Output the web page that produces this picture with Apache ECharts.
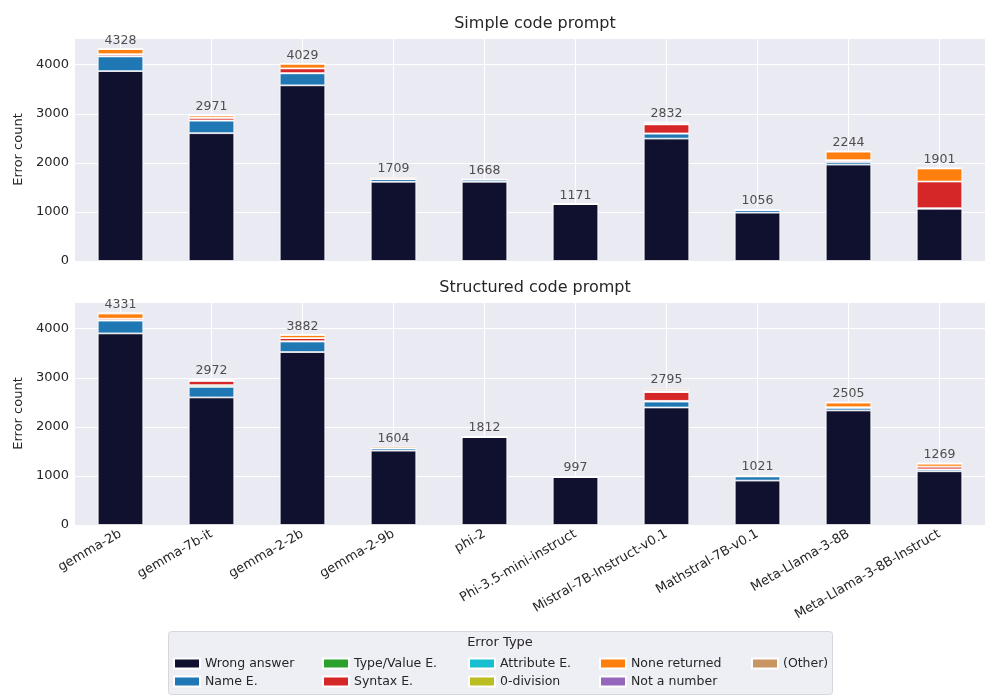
<!DOCTYPE html>
<html>
<head>
<meta charset="utf-8">
<title>Error types per model</title>
<script src="https://cdn.jsdelivr.net/npm/echarts@6/dist/echarts.min.js"></script>
<style>
	html, body { margin: 0; padding: 0; background: #fff; }
	#chart { width: 1000px; height: 700px; }
</style>
</head>
<body>
<div id="chart"></div>
<script>
// models on the x axis
const models = ["gemma-2b", "gemma-7b-it", "gemma-2-2b", "gemma-2-9b", "phi-2",
	"Phi-3.5-mini-instruct", "Mistral-7B-Instruct-v0.1", "Mathstral-7B-v0.1",
	"Meta-Llama-3-8B", "Meta-Llama-3-8B-Instruct"];

const errorTypes = ["Wrong answer", "Name E.", "Type/Value E.", "Syntax E.", "Attribute E.",
	"0-division", "None returned", "Not a number", "(Other)"];
const colors = ["#10102f", "#1f77b4", "#2ca02c", "#d62728", "#17becf",
	"#bcbd22", "#ff7f0e", "#9467bd", "#c99563"];

// simple code prompt
const simpleWrong = [3870, 2605, 3580, 1615, 1615, 1160, 2495, 985, 1965, 1065];
const simpleName = [300, 255, 245, 60, 45, 3, 100, 60, 55, 10];
const simpleType = [5, 5, 5, 0, 0, 0, 5, 0, 5, 0];
const simpleSyntax = [40, 55, 95, 0, 0, 0, 185, 0, 30, 545];
const simpleAttr = [0, 0, 0, 0, 0, 0, 0, 0, 0, 0];
const simpleZero = [0, 0, 0, 0, 0, 0, 0, 0, 0, 0];
const simpleNone = [105, 45, 95, 4, 0, 0, 10, 0, 175, 265];
const simpleNan = [0, 0, 0, 0, 0, 0, 25, 0, 0, 0];
const simpleOther = [8, 6, 9, 30, 8, 8, 12, 11, 14, 16];

// structured code prompt
const structWrong = [3905, 2600, 3525, 1515, 1795, 980, 2395, 905, 2335, 1095];
const structName = [260, 215, 215, 45, 0, 0, 120, 85, 55, 40];
const structType = [5, 35, 5, 0, 0, 0, 15, 0, 0, 0];
const structSyntax = [35, 90, 65, 4, 0, 0, 180, 5, 10, 55];
const structAttr = [0, 0, 0, 0, 0, 0, 5, 0, 0, 0];
const structZero = [0, 0, 0, 0, 0, 0, 5, 0, 0, 0];
const structNone = [105, 10, 65, 0, 0, 0, 10, 0, 95, 60];
const structNan = [0, 0, 0, 0, 0, 0, 30, 0, 0, 0];
const structOther = [21, 22, 7, 40, 17, 17, 35, 26, 10, 19];

const panels = [
	{ title: "Simple code prompt", top: 38, parts: [simpleWrong, simpleName, simpleType, simpleSyntax, simpleAttr, simpleZero, simpleNone, simpleNan, simpleOther] },
	{ title: "Structured code prompt", top: 302, parts: [structWrong, structName, structType, structSyntax, structAttr, structZero, structNone, structNan, structOther] },
];

const font = "DejaVu Sans";
const textColor = "#262626";
const plotH = 223;

let grids = [], xAxes = [], yAxes = [], titles = [], series = [];

panels.forEach((p, g) => {
	grids.push({
		left: 75, right: 15, top: p.top, height: plotH,
		show: true, backgroundColor: "#eaeaf2", borderWidth: 0,
	});
	titles.push({
		text: p.title, left: 530, top: p.top - 27, textAlign: "center",
		textStyle: { fontFamily: font, fontSize: 16, fontWeight: "normal", color: textColor },
	});
	xAxes.push({
		type: "category", gridIndex: g, data: models,
		axisLine: { show: false }, axisTick: { show: false, alignWithLabel: true },
		splitLine: { show: true, alignWithLabel: true, lineStyle: { color: "#ffffff", width: 1 } },
		axisLabel: {
			show: g === 1, rotate: 30, margin: 8, interval: 0,
			fontFamily: font, fontSize: 13, color: textColor,
		},
	});
	yAxes.push({
		type: "value", gridIndex: g, min: 0, max: 4545, interval: 1000,
		name: "Error count", nameLocation: "middle", nameGap: 42,
		nameTextStyle: { fontFamily: font, fontSize: 13, color: textColor },
		axisLine: { show: false }, axisTick: { show: false },
		splitLine: { lineStyle: { color: "#ffffff", width: 1 } },
		axisLabel: {
			showMaxLabel: false, margin: 6, fontFamily: font, fontSize: 13, color: textColor,
			formatter: (v) => String(v),
		},
	});
	p.parts.forEach((arr, k) => {
		series.push({
			name: errorTypes[k], type: "bar", stack: "s" + g,
			xAxisIndex: g, yAxisIndex: g, barWidth: "50%",
			itemStyle: { color: colors[k], borderColor: "#ffffff", borderWidth: 0.8 },
			data: arr,
		});
	});
	const totals = models.map((m, i) => p.parts.reduce((s, arr) => s + arr[i], 0));
	series.push({
		name: "total", type: "scatter", xAxisIndex: g, yAxisIndex: g,
		symbolSize: 1, itemStyle: { color: "transparent" }, silent: true,
		label: { show: true, position: "top", distance: 1, fontFamily: font, fontSize: 12.5, color: textColor },
		data: totals,
	});
});

// legend laid out in 5 columns, filled column by column
const legendCols = [173, 322, 468, 599, 751];
const legends = legendCols.map((x, c) => ({
	orient: "vertical", left: x, top: 657, padding: 0,
	itemWidth: 26, itemHeight: 10, itemGap: 5,
	icon: "rect",
	textStyle: { fontFamily: font, fontSize: 12.5, color: textColor },
	data: errorTypes.slice(c * 2, c * 2 + 2),
}));

let myChart = echarts.init(document.getElementById("chart"));
let option = {
	animation: false,
	backgroundColor: "#ffffff",
	title: titles,
	grid: grids,
	xAxis: xAxes,
	yAxis: yAxes,
	legend: legends,
	graphic: [
		{
			type: "rect", left: 168, top: 631, z: -1,
			shape: { width: 664, height: 63, r: 3 },
			style: { fill: "#eeeef5", stroke: "#d6d6de", lineWidth: 1 },
		},
		{
			type: "text", left: "center", top: 636,
			style: { text: "Error Type", font: "13px 'DejaVu Sans'", fill: textColor },
		},
	],
	series: series,
};
myChart.setOption(option);
</script>
</body>
</html>
